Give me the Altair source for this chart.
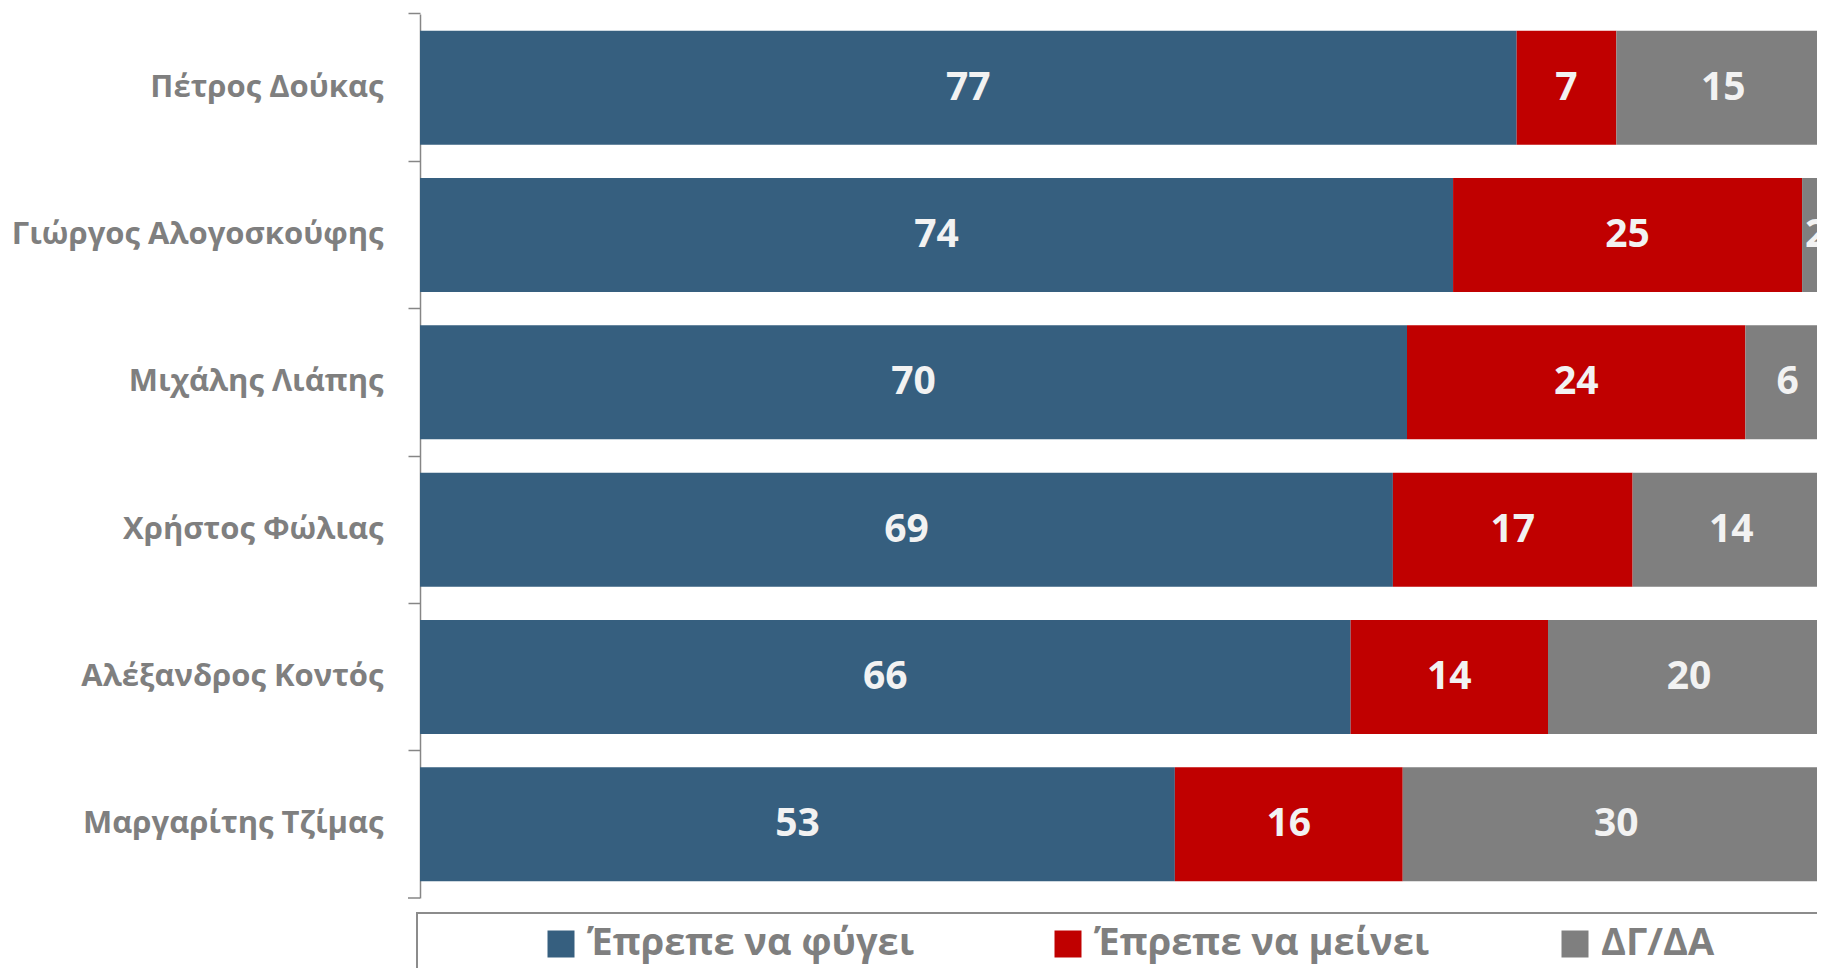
import altair as alt
import pandas as pd

names = ["Πέτρος Δούκας", "Γιώργος Αλογοσκούφης", "Μιχάλης Λιάπης",
         "Χρήστος Φώλιας", "Αλέξανδρος Κοντός", "Μαργαρίτης Τζίμας"]
leave = [77, 74, 70, 69, 66, 53]
stay = [7, 25, 24, 17, 14, 16]
dkna = [15, 2, 6, 14, 20, 30]
series = ["Έπρεπε να φύγει", "Έπρεπε να μείνει", "ΔΓ/ΔΑ"]
colors = ["#365F7F", "#C00000", "#7F7F7F"]

rows = []
for i, n in enumerate(names):
    for k, (s, vals) in enumerate(zip(series, [leave, stay, dkna])):
        rows.append({"name": n, "series": s, "order": k, "value": vals[i]})
df = pd.DataFrame(rows)

VIEW_W = 1397
FULL_W = 1410
VIEW_H = 884
FONT = "Open Sans"
AXIS_GRAY = "#868686"
P_IN = 0.226
P_OUT = P_IN / 2
STEP = VIEW_H / 6
BANDWIDTH = STEP * (1 - P_IN)
TICK_BAND = -(P_OUT * STEP) / BANDWIDTH   # ticks on the step boundaries

base = alt.Chart(df).transform_stack(
    stack="value", groupby=["name"], as_=["v0", "v1"], offset="normalize",
    sort=[alt.SortField("order", order="ascending")]
).transform_calculate(mid="(datum.v0 + datum.v1) / 2")

xscale = alt.Scale(domain=[0, VIEW_W / FULL_W], nice=False, zero=True)
yscale = alt.Scale(paddingInner=P_IN, paddingOuter=P_OUT)

bars = base.mark_bar().encode(
    x=alt.X("v0:Q", scale=xscale, axis=None),
    x2="v1:Q",
    y=alt.Y("name:N", sort=names, title=None, scale=yscale,
            axis=alt.Axis(domain=True, domainColor=AXIS_GRAY, domainWidth=1.5,
                          ticks=True, tickColor=AXIS_GRAY, tickWidth=1.5,
                          tickSize=12, bandPosition=TICK_BAND,
                          grid=False,
                          labelFont=FONT, labelFontWeight="bold",
                          labelFontSize=31, labelColor="#7F7F7F",
                          labelPadding=25, labelLimit=600)),
    color=alt.Color("series:N", scale=alt.Scale(domain=series, range=colors),
                    legend=alt.Legend(title=None, orient="none", legendX=122,
                                      legendY=911, direction="horizontal",
                                      columns=3, gridAlign="all",
                                      columnPadding=126, symbolType="square",
                                      symbolSize=729, symbolStrokeWidth=0,
                                      symbolOpacity=1, labelFont=FONT,
                                      labelFontWeight="bold", labelFontSize=38,
                                      labelColor="#7F7F7F", labelOffset=7,
                                      labelLimit=700, padding=0)),
)

labels = base.mark_text(font=FONT, fontWeight="bold", fontSize=39,
                        color="#F2F2F2", baseline="middle", align="center").encode(
    x=alt.X("mid:Q", scale=xscale, axis=None),
    y=alt.Y("name:N", sort=names, scale=yscale),
    text="value:Q",
)

bottom_tick = alt.Chart(pd.DataFrame({"k": [0]})).mark_rule(
    color=AXIS_GRAY, strokeWidth=1.5).encode(
    x=alt.value(-12), x2=alt.value(0), y=alt.value(VIEW_H))

frame = alt.Chart(pd.DataFrame({"k": [0]})).mark_rect(
    fillOpacity=0, stroke="#8C8C8C", strokeWidth=2).encode(
    x=alt.value(-3), x2=alt.value(1500), y=alt.value(899), y2=alt.value(1200))

chart = alt.layer(bars, labels, bottom_tick, frame).properties(
    width=VIEW_W, height=VIEW_H,
    autosize=alt.AutoSizeParams(type="none"),
    padding={"left": 412, "top": 6, "right": 0, "bottom": 70},
).configure_view(strokeWidth=0)

chart.save("out.html", embed_options={"renderer": "svg", "actions": False})
